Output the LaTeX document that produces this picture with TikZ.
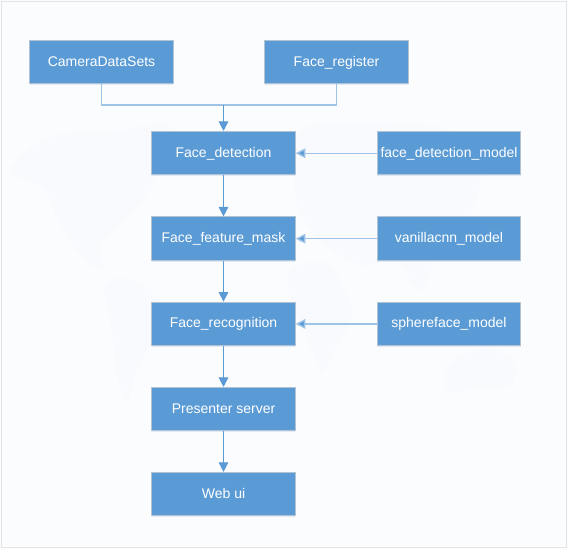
\documentclass[tikz,border=0pt]{standalone}
\usepackage{fontspec}
\setmainfont{Liberation Sans}
\usetikzlibrary{arrows.meta,calc,shadows}
\definecolor{boxfill}{HTML}{5B9BD5}
\definecolor{boxline}{HTML}{B4C3D4}
\definecolor{linkcol}{HTML}{5B9BD5}
\definecolor{linklite}{HTML}{9DC3E6}
\definecolor{pagebg}{HTML}{FBFCFE}
\definecolor{mapcol}{HTML}{F9FAFD}
\definecolor{pageline}{HTML}{E4E4E4}
\tikzset{
  x=1pt,y=-1pt,
  flowbox/.style={draw=boxline,line width=1pt,fill=boxfill,text=white,minimum width=143.5pt,minimum height=43.5pt,inner sep=0pt,font=\fontsize{14}{16}\selectfont,text height=11pt,text depth=3pt,anchor=center,
    drop shadow={shadow xshift=0pt,shadow yshift=-1.5pt,opacity=0.18,fill=boxfill}},
  link/.style={draw=linkcol,line width=1pt,-{Triangle[length=9.5pt,width=9.5pt]}},
  linkplain/.style={draw=linklite,line width=1.4pt},
  linklight/.style={draw=linklite,line width=1.4pt,-{Triangle[length=9.5pt,width=9.5pt,fill=linkcol]}},
  landmass/.style={fill=mapcol,draw=none},
}
\begin{document}
\begin{tikzpicture}
\useasboundingbox (0,0) rectangle (568,549);
\fill[pagebg] (0,0) rectangle (568,549);
\draw[pageline,line width=1pt] (1.5,1.5) rectangle (566.5,547);
% faint world map in the background
\path[landmass] plot[smooth cycle] coordinates {(10,170) (50,137) (120,130) (170,128) (150,190) (125,220) (100,245) (105,270) (85,260) (60,225) (45,190)};
\path[landmass] plot[smooth cycle] coordinates {(105,285) (135,280) (165,310) (150,345) (135,375) (128,402) (118,380) (112,330)};
\path[landmass] plot[smooth cycle] coordinates {(290,270) (325,262) (345,290) (352,315) (335,350) (322,372) (310,345) (292,305)};
\path[landmass] plot[smooth cycle] coordinates {(300,130) (370,122) (450,130) (480,170) (470,215) (440,250) (420,290) (395,260) (360,265) (320,240) (296,200)};
\path[landmass] plot[smooth cycle] coordinates {(446,368) (470,352) (490,348) (514,362) (510,385) (480,388) (450,392)};
\node[flowbox] (cam) at (101.5,62.2) {CameraDataSets};
\node[flowbox] (reg) at (336.5,62.2) {Face\_register};
\node[flowbox] (det) at (223.5,153.2) {Face\_detection};
\node[flowbox] (mask) at (223.5,238.7) {Face\_feature\_mask};
\node[flowbox] (rec) at (223.5,323.9) {Face\_recognition};
\node[flowbox] (pres) at (223.5,409.2) {Presenter server};
\node[flowbox] (web) at (223.5,494.2) {Web ui};
\node[flowbox] (dm) at (449,153.2) {face\_detection\_model};
\node[flowbox] (vm) at (449,238.7) {vanillacnn\_model};
\node[flowbox] (sm) at (449,323.9) {sphereface\_model};
\coordinate (merge) at (223.5,105);
\draw[linkplain] (cam.south) |- (merge);
\draw[linkplain] (reg.south) |- (merge);
\draw[link] (merge) -- (det.north);
\draw[link] (det.south) -- (mask.north);
\draw[link] (mask.south) -- (rec.north);
\draw[link] (rec.south) -- (pres.north);
\draw[link] (pres.south) -- (web.north);
\draw[linklight] (dm.west) -- (det.east);
\draw[linklight] (vm.west) -- (mask.east);
\draw[linklight] (sm.west) -- (rec.east);
\end{tikzpicture}
\end{document}
